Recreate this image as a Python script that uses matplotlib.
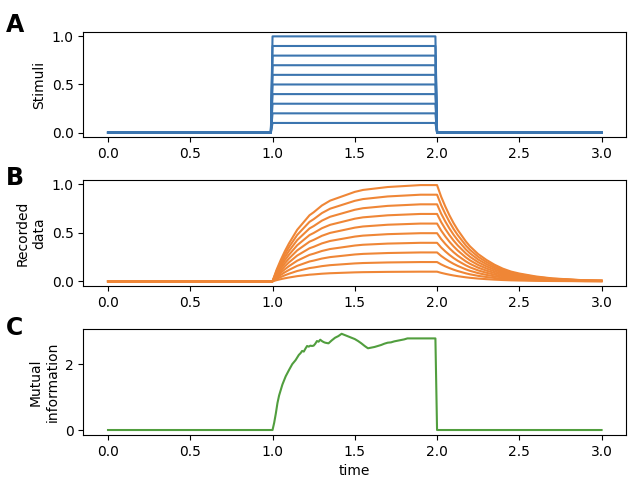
import matplotlib
matplotlib.use("Agg")
import matplotlib.pyplot as plt
import numpy as np

BLUE = "#3b75af"; ORANGE = "#ef8636"; GREEN = "#519e3e"

# stimulus amplitudes (one trace each)
amps = [0.1, 0.2, 0.3, 0.4, 0.5, 0.6, 0.7, 0.8, 0.9, 1.0]

# stimulus pulse shape (unit amplitude)
stim_t = [0.0, 0.99, 1.0, 1.99, 2.0, 3.0]
stim_v = [0.0, 0.0, 1.0, 1.0, 0.0, 0.0]

resp_t = [0.0, 1.0, 1.0125, 1.025, 1.0375, 1.05, 1.075, 1.1, 1.125, 1.15, 1.175,
          1.2, 1.225, 1.25, 1.3, 1.35, 1.4, 1.45, 1.5, 1.55, 1.6, 1.7, 1.8, 1.9,
          2.0, 2.0125, 2.025, 2.0375, 2.05, 2.075, 2.1, 2.125, 2.15, 2.175, 2.2,
          2.25, 2.3, 2.35, 2.4, 2.45, 2.5, 2.6, 2.7, 2.8, 2.9, 3.0]
resp_v = [0.0, 0.0, 0.06, 0.12, 0.17, 0.22, 0.31, 0.39, 0.46, 0.53, 0.58,
          0.63, 0.68, 0.71, 0.78, 0.83, 0.86, 0.89, 0.92, 0.94, 0.95, 0.97, 0.98, 0.99,
          0.99, 0.93, 0.87, 0.82, 0.77, 0.68, 0.60, 0.53, 0.47, 0.41, 0.36,
          0.28, 0.22, 0.17, 0.13, 0.10, 0.08, 0.05, 0.03, 0.02, 0.01, 0.007]

# mutual information trace
mi_t = [0.0, 1.0, 1.01, 1.02, 1.03, 1.04, 1.06, 1.08, 1.10, 1.12, 1.14, 1.16,
        1.17, 1.18, 1.19, 1.20, 1.21, 1.22, 1.23, 1.24, 1.25, 1.26, 1.27, 1.28,
        1.29, 1.30, 1.31, 1.32, 1.34, 1.36, 1.38, 1.40, 1.42, 1.44, 1.46,
        1.48, 1.50, 1.52, 1.54, 1.56, 1.58, 1.60, 1.62, 1.64, 1.66, 1.68, 1.70,
        1.72, 1.74, 1.76, 1.78, 1.80, 1.82, 1.84, 1.99, 2.0, 3.0]
mi_v = [0.0, 0.0, 0.22, 0.50, 0.82, 1.05, 1.38, 1.63, 1.82, 2.00, 2.12, 2.28,
        2.33, 2.40, 2.38, 2.47, 2.55, 2.53, 2.56, 2.55, 2.56, 2.62, 2.70, 2.68,
        2.74, 2.70, 2.67, 2.65, 2.63, 2.72, 2.80, 2.85, 2.92, 2.88, 2.84,
        2.80, 2.76, 2.70, 2.63, 2.55, 2.48, 2.50, 2.52, 2.55, 2.58, 2.62, 2.65,
        2.66, 2.69, 2.71, 2.73, 2.75, 2.78, 2.78, 2.78, 0.0, 0.0]

fig, axes = plt.subplots(3, 1, figsize=(6.41, 4.93), dpi=100)
fig.subplots_adjust(left=0.13, right=0.977, bottom=0.118, top=0.936, hspace=0.405)
axA, axB, axC = axes

for a in amps:
    axA.plot(stim_t, np.array(stim_v) * a, color=BLUE)
    axB.plot(resp_t, np.array(resp_v) * a, color=ORANGE)
axC.plot(mi_t, mi_v, color=GREEN)

axA.set_ylabel("Stimuli")
axB.set_ylabel("Recorded\ndata")
axC.set_ylabel("Mutual\ninformation")
axC.set_xlabel("time")
axC.set_yticks([0, 2])

for ax, lab, yb in zip(axes, ["A", "B", "C"], [31.7, 185.0, 335.0]):
    fig.text(6 / 641, 1 - yb / 493, lab, fontsize=17, fontweight="bold", va="baseline")

fig.savefig("out.png")
